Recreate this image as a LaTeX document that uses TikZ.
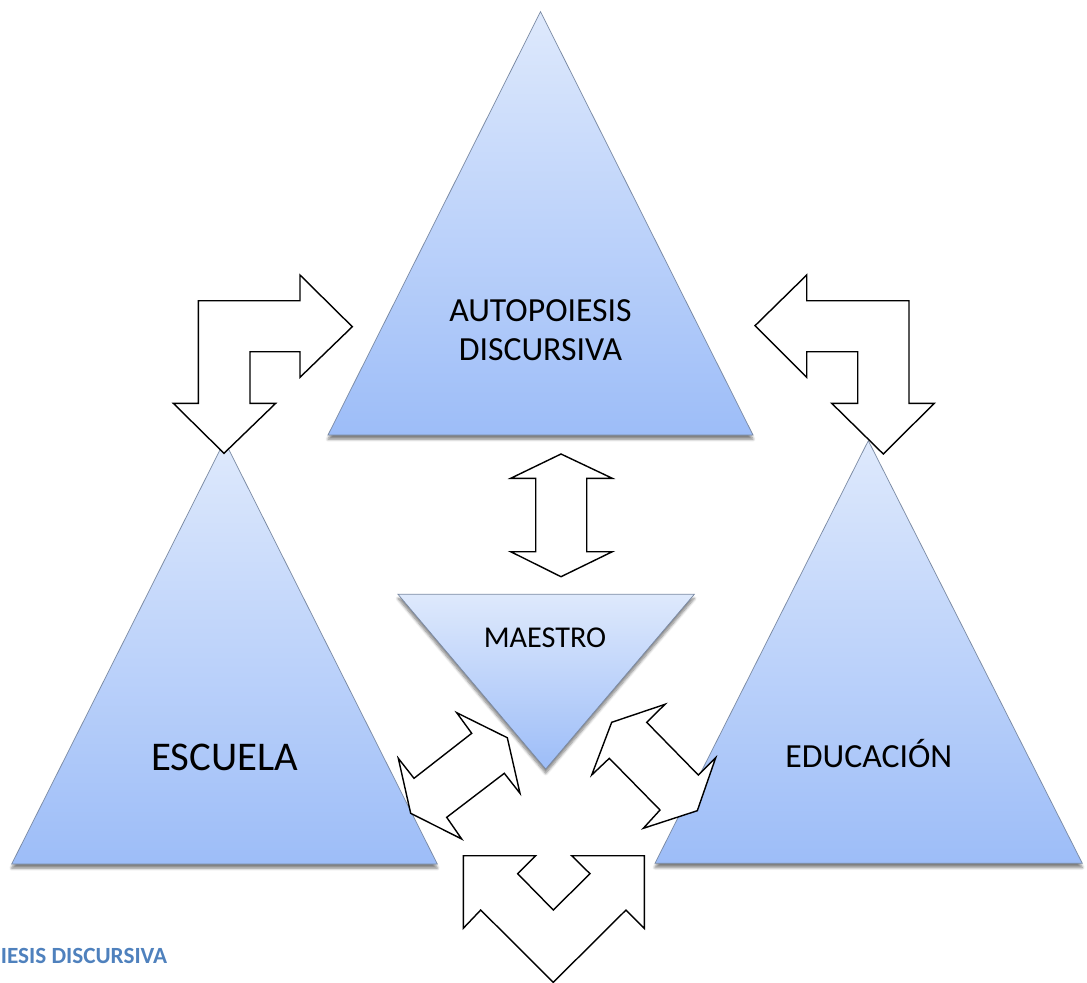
\documentclass[tikz,border=0pt]{standalone}
\usepackage{fontspec}
\setmainfont{Carlito}
\usetikzlibrary{shadows.blur}
\definecolor{triTop}{HTML}{DEE9FC}
\definecolor{triBottom}{HTML}{9DBDF8}
\definecolor{triEdge}{HTML}{7A8AA4}
\definecolor{headBlue}{HTML}{4F81BD}

\begin{document}
\begin{tikzpicture}[x=0.025cm, y=-0.025cm]

      \tikzset{tri/.style={draw=triEdge, line width=0.5pt, top color=triTop, bottom color=triBottom,
                 blur shadow={shadow xshift=0pt, shadow yshift=-3pt, shadow blur steps=6, shadow opacity=50}}}
      \tikzset{arrowbox/.style={draw=black, fill=white, line width=1pt, line join=miter}}
      \tikzset{word/.style={inner sep=0pt, text=black}}

      \useasboundingbox (0,0) rectangle (1087,982);
      \clip (0,0) rectangle (1087,982);
%% Triangles
      	\draw[tri] (328,435) -- (540.5,11.7) -- (753,435) -- cycle;
      	\draw[tri] (11.7,864) -- (224.5,441) -- (437.3,864) -- cycle;
      	\draw[tri] (655,863.3) -- (868.3,440.7) -- (1082.3,863.3) -- cycle;
      	\draw[tri] (398,594.3) -- (694.3,594.3) -- (545.7,769) -- cycle;
%% Labels
      	\node[word, align=center, font=\fontsize{24}{27.7}\selectfont, anchor=base] (autopoiesis) at (540.5,360.3) {AUTOPOIESIS\\DISCURSIVA};
      	\node[word, font=\fontsize{29}{34}\selectfont, anchor=base] (escuela) at (224.5,770) {ESCUELA};
      	\node[word, font=\fontsize{24}{28}\selectfont, anchor=base] (educacion) at (868.8,767.3) {EDUCACIÓN};
      	\node[word, font=\fontsize{21.5}{26}\selectfont, anchor=base] (maestro) at (545,647.7) {MAESTRO};
      	\node[word, text=headBlue, font=\bfseries\fontsize{16.5}{19}\selectfont, anchor=base east] (caption) at (167.5,963.3) {IESIS DISCURSIVA};
%% Block arrows
		% top left, bent
		\draw[arrowbox] (198.3,300.7) -- (300,300.7) -- (300,275) -- (352.3,326.7) -- (300,377.3) -- (300,351.7)
		  -- (250,351.7) -- (250,403.3) -- (275.7,403.3) -- (224,453.3) -- (173.3,403.3) -- (198.3,403.3) -- cycle;
		% top right, bent
		\draw[arrowbox] (909,300.7) -- (806.7,300.7) -- (806.7,275) -- (755,325.7) -- (806.7,377.3) -- (806.7,351.7)
		  -- (857.7,351.7) -- (857.7,403.3) -- (831.7,403.3) -- (883.3,454) -- (934.3,403.3) -- (909,403.3) -- cycle;
		% middle, up and down
		\draw[arrowbox] (561,454) -- (612.3,478.3) -- (586.7,478.3) -- (586.7,551.7) -- (612.3,551.7) -- (561,576.7)
		  -- (510.7,551.7) -- (535.7,551.7) -- (535.7,478.3) -- (510.7,478.3) -- cycle;
		% lower left, diagonal
		\draw[arrowbox] (456.7,712.7) -- (507.3,737.7) -- (520,793.3) -- (504.3,773.3) -- (446.7,817.3) -- (461.7,839)
		  -- (410.7,813.3) -- (398.3,758.3) -- (414,778.3) -- (471.7,733.3) -- cycle;
		% lower right, diagonal
		\draw[arrowbox] (665,704.3) -- (646.7,722.3) -- (698.3,775) -- (715.7,757.7) -- (697.3,810.7) -- (643.3,828.3)
		  -- (660,810) -- (609.3,758.3) -- (591.7,775) -- (611.7,722.3) -- cycle;
		% bottom
		\draw[arrowbox] (463.3,855.7) -- (535.7,855.7) -- (517.7,873.7) -- (553.3,910) -- (590,873.7) -- (571.7,855.7)
		  -- (644.3,855.7) -- (644.3,928.3) -- (626,910) -- (553.3,982.3) -- (480.7,910) -- (463.3,928.3) -- cycle;

	\end{tikzpicture}
\end{document}
